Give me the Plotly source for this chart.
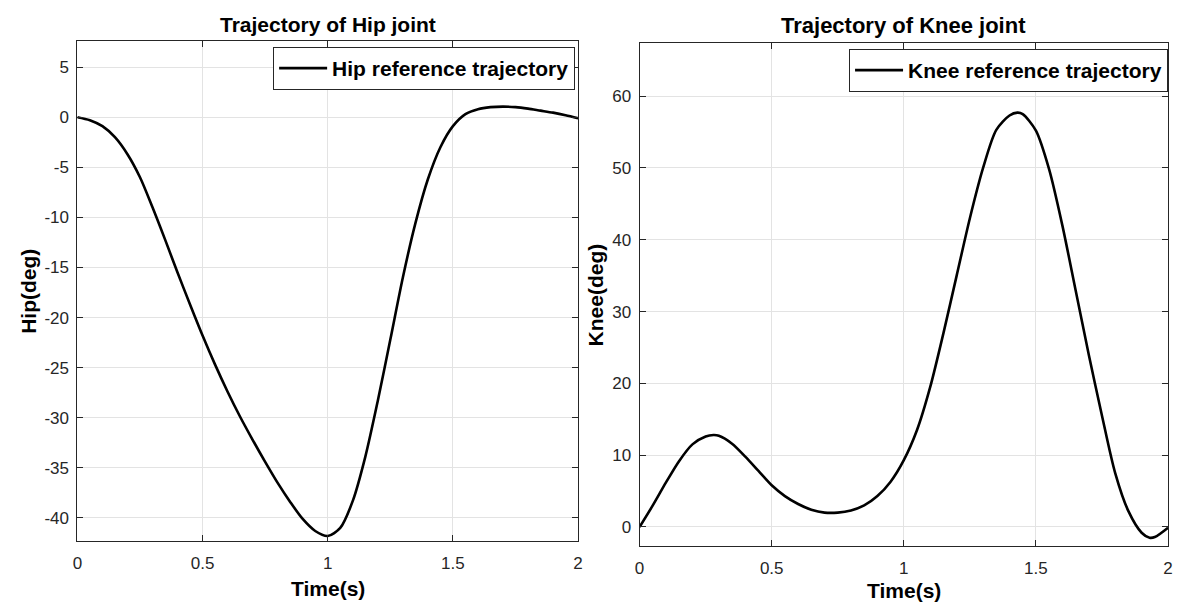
import plotly.graph_objects as go
from plotly.subplots import make_subplots

# Time samples (s)
hip_t = [0.0, 0.05, 0.1, 0.15, 0.2, 0.25, 0.3, 0.35, 0.4, 0.45, 0.5, 0.55, 0.6,
         0.65, 0.7, 0.75, 0.8, 0.85, 0.9, 0.95, 1.0, 1.05, 1.1, 1.15, 1.2, 1.25,
         1.3, 1.35, 1.4, 1.45, 1.5, 1.55, 1.6, 1.65, 1.7, 1.75, 1.8, 1.85, 1.9,
         1.95, 2.0]
# Hip reference angle (deg)
hip_deg = [0.0, -0.3, -0.9, -2.0, -3.7, -6.0, -9.0, -12.2, -15.5, -18.7, -21.8,
           -24.7, -27.4, -29.9, -32.2, -34.4, -36.5, -38.4, -40.1, -41.3, -41.8,
           -41.0, -38.3, -33.9, -28.3, -22.2, -16.0, -10.6, -6.2, -3.0, -0.9,
           0.3, 0.8, 1.0, 1.05, 1.0, 0.85, 0.65, 0.45, 0.2, -0.1]

knee_t = [0.0, 0.05, 0.1, 0.15, 0.2, 0.25, 0.28, 0.3, 0.35, 0.4, 0.45, 0.5, 0.55,
          0.6, 0.65, 0.7, 0.75, 0.8, 0.85, 0.9, 0.95, 1.0, 1.05, 1.1, 1.15, 1.2,
          1.25, 1.3, 1.35, 1.4, 1.43, 1.45, 1.5, 1.55, 1.6, 1.65, 1.7, 1.75, 1.8,
          1.85, 1.9, 1.93, 1.95, 2.0]
# Knee reference angle (deg)
knee_deg = [0.0, 3.0, 6.2, 9.2, 11.5, 12.6, 12.8, 12.7, 11.6, 9.8, 7.8, 5.8, 4.3,
            3.2, 2.4, 2.0, 2.0, 2.3, 3.0, 4.3, 6.3, 9.3, 13.5, 19.5, 27.0, 35.0,
            43.0, 50.0, 55.3, 57.3, 57.7, 57.5, 55.2, 49.8, 42.0, 33.0, 24.0,
            15.5, 7.5, 2.2, -0.8, -1.5, -1.4, -0.1]

x_ticks = [0, 0.5, 1, 1.5, 2]
x_tick_text = ["0", "0.5", "1", "1.5", "2"]
hip_ticks = [5, 0, -5, -10, -15, -20, -25, -30, -35, -40]
knee_ticks = [0, 10, 20, 30, 40, 50, 60]

W, H = 1179, 602
INK = "#262626"
GRID = "#e3e3e3"
FONT = "Liberation Sans, Arial, Helvetica, sans-serif"
TICK_SIZE = 17
LABEL_SIZE = 21

fig = make_subplots(rows=1, cols=2)

fig.add_trace(go.Scatter(x=hip_t, y=hip_deg, mode="lines",
                         line=dict(color="black", width=2.6, shape="spline", smoothing=0.8),
                         name="Hip reference trajectory", legend="legend"), row=1, col=1)
fig.add_trace(go.Scatter(x=knee_t, y=knee_deg, mode="lines",
                         line=dict(color="black", width=2.6, shape="spline", smoothing=0.8),
                         name="Knee reference trajectory", legend="legend2"), row=1, col=2)

axis_common = dict(showline=True, linecolor=INK, linewidth=1, mirror="ticks",
                   ticks="inside", ticklen=6, tickcolor=INK, tickwidth=1,
                   showgrid=True, gridcolor=GRID, gridwidth=1, zeroline=False,
                   tickfont=dict(family=FONT, size=TICK_SIZE, color=INK))

# Subplot frames in pixels
L1, R1, T1, B1 = 73, 578, 41, 541
L2, R2, T2, B2 = 640, 1173, 43, 546

fig.update_xaxes(**axis_common, range=[0, 2], tickvals=x_ticks, ticktext=x_tick_text,
                 ticklabelstandoff=7)
fig.update_yaxes(**axis_common, ticklabelstandoff=4)
fig.update_layout(
    xaxis=dict(domain=[L1 / W, R1 / W]),
    xaxis2=dict(domain=[L2 / W, R2 / W]),
    yaxis=dict(domain=[1 - B1 / H, 1 - T1 / H], range=[-42.3, 7.6],
               tickvals=hip_ticks, ticktext=[str(v) for v in hip_ticks]),
    yaxis2=dict(domain=[1 - B2 / H, 1 - T2 / H], range=[-2.65, 67.4],
                tickvals=knee_ticks, ticktext=[str(v) for v in knee_ticks]),
)

legend_style = dict(bgcolor="white", bordercolor=INK, borderwidth=1,
                    font=dict(family=FONT, size=LABEL_SIZE, color="black", weight="bold"),
                    xanchor="right", yanchor="top", tracegroupgap=0, itemwidth=48)
fig.update_layout(
    legend=dict(**legend_style, x=(R1 - 3) / W, y=1 - (T1 + 6) / H),
    legend2=dict(**legend_style, x=(R2 - 0) / W, y=1 - (T2 + 6) / H),
)

def label(text, x, y, size=LABEL_SIZE, angle=0):
    fig.add_annotation(text=f"<b>{text}</b>", x=x / W, y=1 - y / H, xref="paper",
                       yref="paper", xanchor="center", yanchor="middle",
                       showarrow=False, textangle=angle,
                       font=dict(family=FONT, size=size, color="black"))

# Panel titles
label("Trajectory of Hip joint", (L1 + R1) / 2, 25)
label("Trajectory of Knee joint", (L2 + R2) / 2, 26, size=22)
# Axis labels
label("Time(s)", (L1 + R1) / 2, 588)
label("Time(s)", (L2 + R2) / 2, 590)
label("Hip(deg)", 23, (T1 + B1) / 2, angle=-90)
label("Knee(deg)", 596, (T2 + B2) / 2, angle=-90)

fig.update_layout(width=W, height=H, margin=dict(l=0, r=0, t=0, b=0),
                  plot_bgcolor="white", paper_bgcolor="white", showlegend=True)

fig.write_html("out.html")
